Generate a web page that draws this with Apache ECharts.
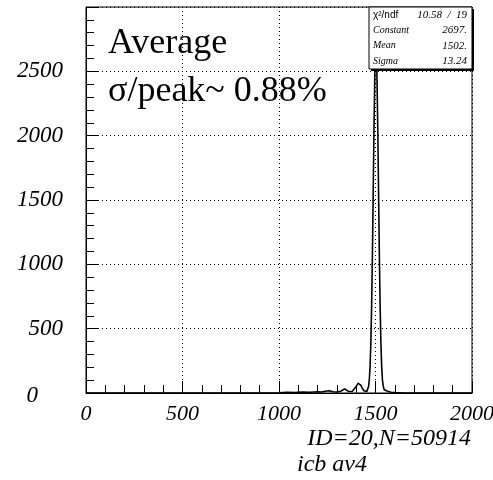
<!DOCTYPE html>
<html>
<head>
<meta charset="utf-8">
<script src="https://cdn.jsdelivr.net/npm/echarts@6/dist/echarts.min.js"></script>
<style>html,body{margin:0;padding:0;background:#fff}#c{width:493px;height:480px}</style>
</head>
<body>
<div id="c"></div>
<script>
// Histogram bin positions and contents
var binX = [0, 200, 400, 600, 800, 1000, 1040, 1080, 1120, 1160, 1200, 1220, 1240, 1260, 1280, 1300, 1320, 1330, 1340, 1350, 1360, 1370, 1380, 1390, 1400, 1405, 1410, 1415, 1420, 1425, 1430, 1435, 1440, 1445, 1450, 1455, 1460, 1464, 1468, 1472, 1476, 1480, 1484, 1488, 1492, 1496, 1499, 1502, 1505, 1508, 1512, 1516, 1520, 1524, 1528, 1532, 1536, 1540, 1545, 1550, 1560, 1570, 1580, 1600, 1650, 1700, 1800, 1900, 2000];
var counts = [0, 0, 0, 0, 0, 2, 5, 3, 8, 6, 10, 8, 14, 18, 10, 8, 14, 22, 32, 25, 12, 8, 14, 28, 50, 65, 76, 80, 75, 60, 40, 25, 18, 15, 10, 12, 25, 50, 105, 210, 395, 680, 1075, 1545, 2030, 2435, 2650, 2715, 2650, 2420, 2028, 1542, 1071, 678, 392, 207, 100, 55, 25, 20, 15, 10, 6, 3, 0, 0, 0, 0, 0];
var xTicks = [0, 500, 1000, 1500, 2000];
var yTicks = [0, 500, 1000, 1500, 2000, 2500];
var statNames = ['\u03c7\u00b2/ndf', 'Constant', 'Mean', 'Sigma'];
var statValues = ['10.58  /  19', '2697.', '1502.', '13.24'];
var titleLines = ['Average', '\u03c3/peak~ 0.88%'];
var infoText = 'ID=20,N=50914';
var histName = 'icb av4';

var chart = echarts.init(document.getElementById('c'));
var lblFont = {fontFamily: 'Liberation Serif', fontStyle: 'italic', fontSize: 22, color: '#000'};

var statsGraphics = [];
var bx = 369, by = 7, bw = 103, bh = 62;
statsGraphics.push({type: 'rect', shape: {x: bx + 2, y: by + 2, width: bw, height: bh}, style: {fill: '#000'}, z: 10});
statsGraphics.push({type: 'rect', shape: {x: bx, y: by, width: bw, height: bh}, style: {fill: '#fff', stroke: '#000', lineWidth: 1}, z: 11});
for (var i = 0; i < statNames.length; i++) {
  var cy = by + bh / 8 + i * bh / 4;
  statsGraphics.push({type: 'text', x: bx + 4, y: cy, z: 12,
    style: {text: statNames[i], fontFamily: i === 0 ? 'Liberation Sans' : 'Liberation Serif', fontStyle: i === 0 ? 'normal' : 'italic', fontSize: 10, fill: '#000', textVerticalAlign: 'middle', verticalAlign: 'middle'}});
  statsGraphics.push({type: 'text', x: bx + bw - 5, y: cy, z: 12,
    style: {text: statValues[i], fontFamily: 'Liberation Serif', fontStyle: 'italic', fontSize: 11, fill: '#000', align: 'right', textAlign: 'right', verticalAlign: 'middle', textVerticalAlign: 'middle'}});
}

chart.setOption({
  animation: false,
  backgroundColor: '#fff',
  grid: {left: 86, right: 21, top: 7, bottom: 87, show: true, borderColor: '#000', borderWidth: 1, backgroundColor: 'transparent', outerBoundsMode: 'none', containLabel: false},
  xAxis: {
    type: 'value', min: xTicks[0], max: xTicks[xTicks.length - 1], interval: 500,
    axisLine: {show: true, onZero: false, lineStyle: {color: '#000', width: 1}},
    axisTick: {show: true, inside: true, length: 12, lineStyle: {color: '#000'}},
    minorTick: {show: true, splitNumber: 5, length: 8, lineStyle: {color: '#000'}},
    splitLine: {show: true, lineStyle: {color: '#000', type: [1, 3], width: 1}},
    axisLabel: Object.assign({margin: 10, showMinLabel: true, showMaxLabel: true, hideOverlap: false,
      formatter: function (v) { return String(v); }}, lblFont)
  },
  yAxis: {
    type: 'value', min: 0, max: 3000, interval: 500,
    axisLine: {show: true, onZero: false, lineStyle: {color: '#000', width: 1}},
    axisTick: {show: true, inside: true, length: 12, lineStyle: {color: '#000'}},
    minorTick: {show: true, splitNumber: 5, length: 8, lineStyle: {color: '#000'}},
    splitLine: {show: true, lineStyle: {color: '#000', type: [1, 3], width: 1}},
    axisLabel: Object.assign({margin: 23, showMaxLabel: false,
      formatter: function (v) { return v === 0 ? '{z|0}' : String(v); },
      rich: {z: {fontFamily: 'Liberation Serif', fontStyle: 'italic', fontSize: 23, padding: [6, 25, 0, 0]}}
    }, lblFont, {fontSize: 23})
  },
  series: [{
    type: 'line', data: binX.map(function (x, i) { return [x, counts[i]]; }),
    showSymbol: false, symbol: 'none', lineStyle: {color: '#000', width: 1.6}, z: 5
  }],
  graphic: [
    {type: 'text', x: 108, y: 44, style: {text: titleLines[0], fontFamily: 'Liberation Serif', fontSize: 36, fill: '#000', verticalAlign: 'middle', textVerticalAlign: 'middle'}, z: 20},
    {type: 'text', x: 108, y: 92, style: {text: titleLines[1], fontFamily: 'Liberation Serif', fontSize: 36, fill: '#000', verticalAlign: 'middle', textVerticalAlign: 'middle'}, z: 20},
    {type: 'text', x: 471, y: 439, style: {text: infoText, fontFamily: 'Liberation Serif', fontStyle: 'italic', fontSize: 24, fill: '#000', align: 'right', textAlign: 'right', verticalAlign: 'middle', textVerticalAlign: 'middle'}},
    {type: 'text', x: 297, y: 465, style: {text: histName, fontFamily: 'Liberation Serif', fontStyle: 'italic', fontSize: 24, fill: '#000', verticalAlign: 'middle', textVerticalAlign: 'middle'}}
  ].concat(statsGraphics)
});
</script>
</body>
</html>
